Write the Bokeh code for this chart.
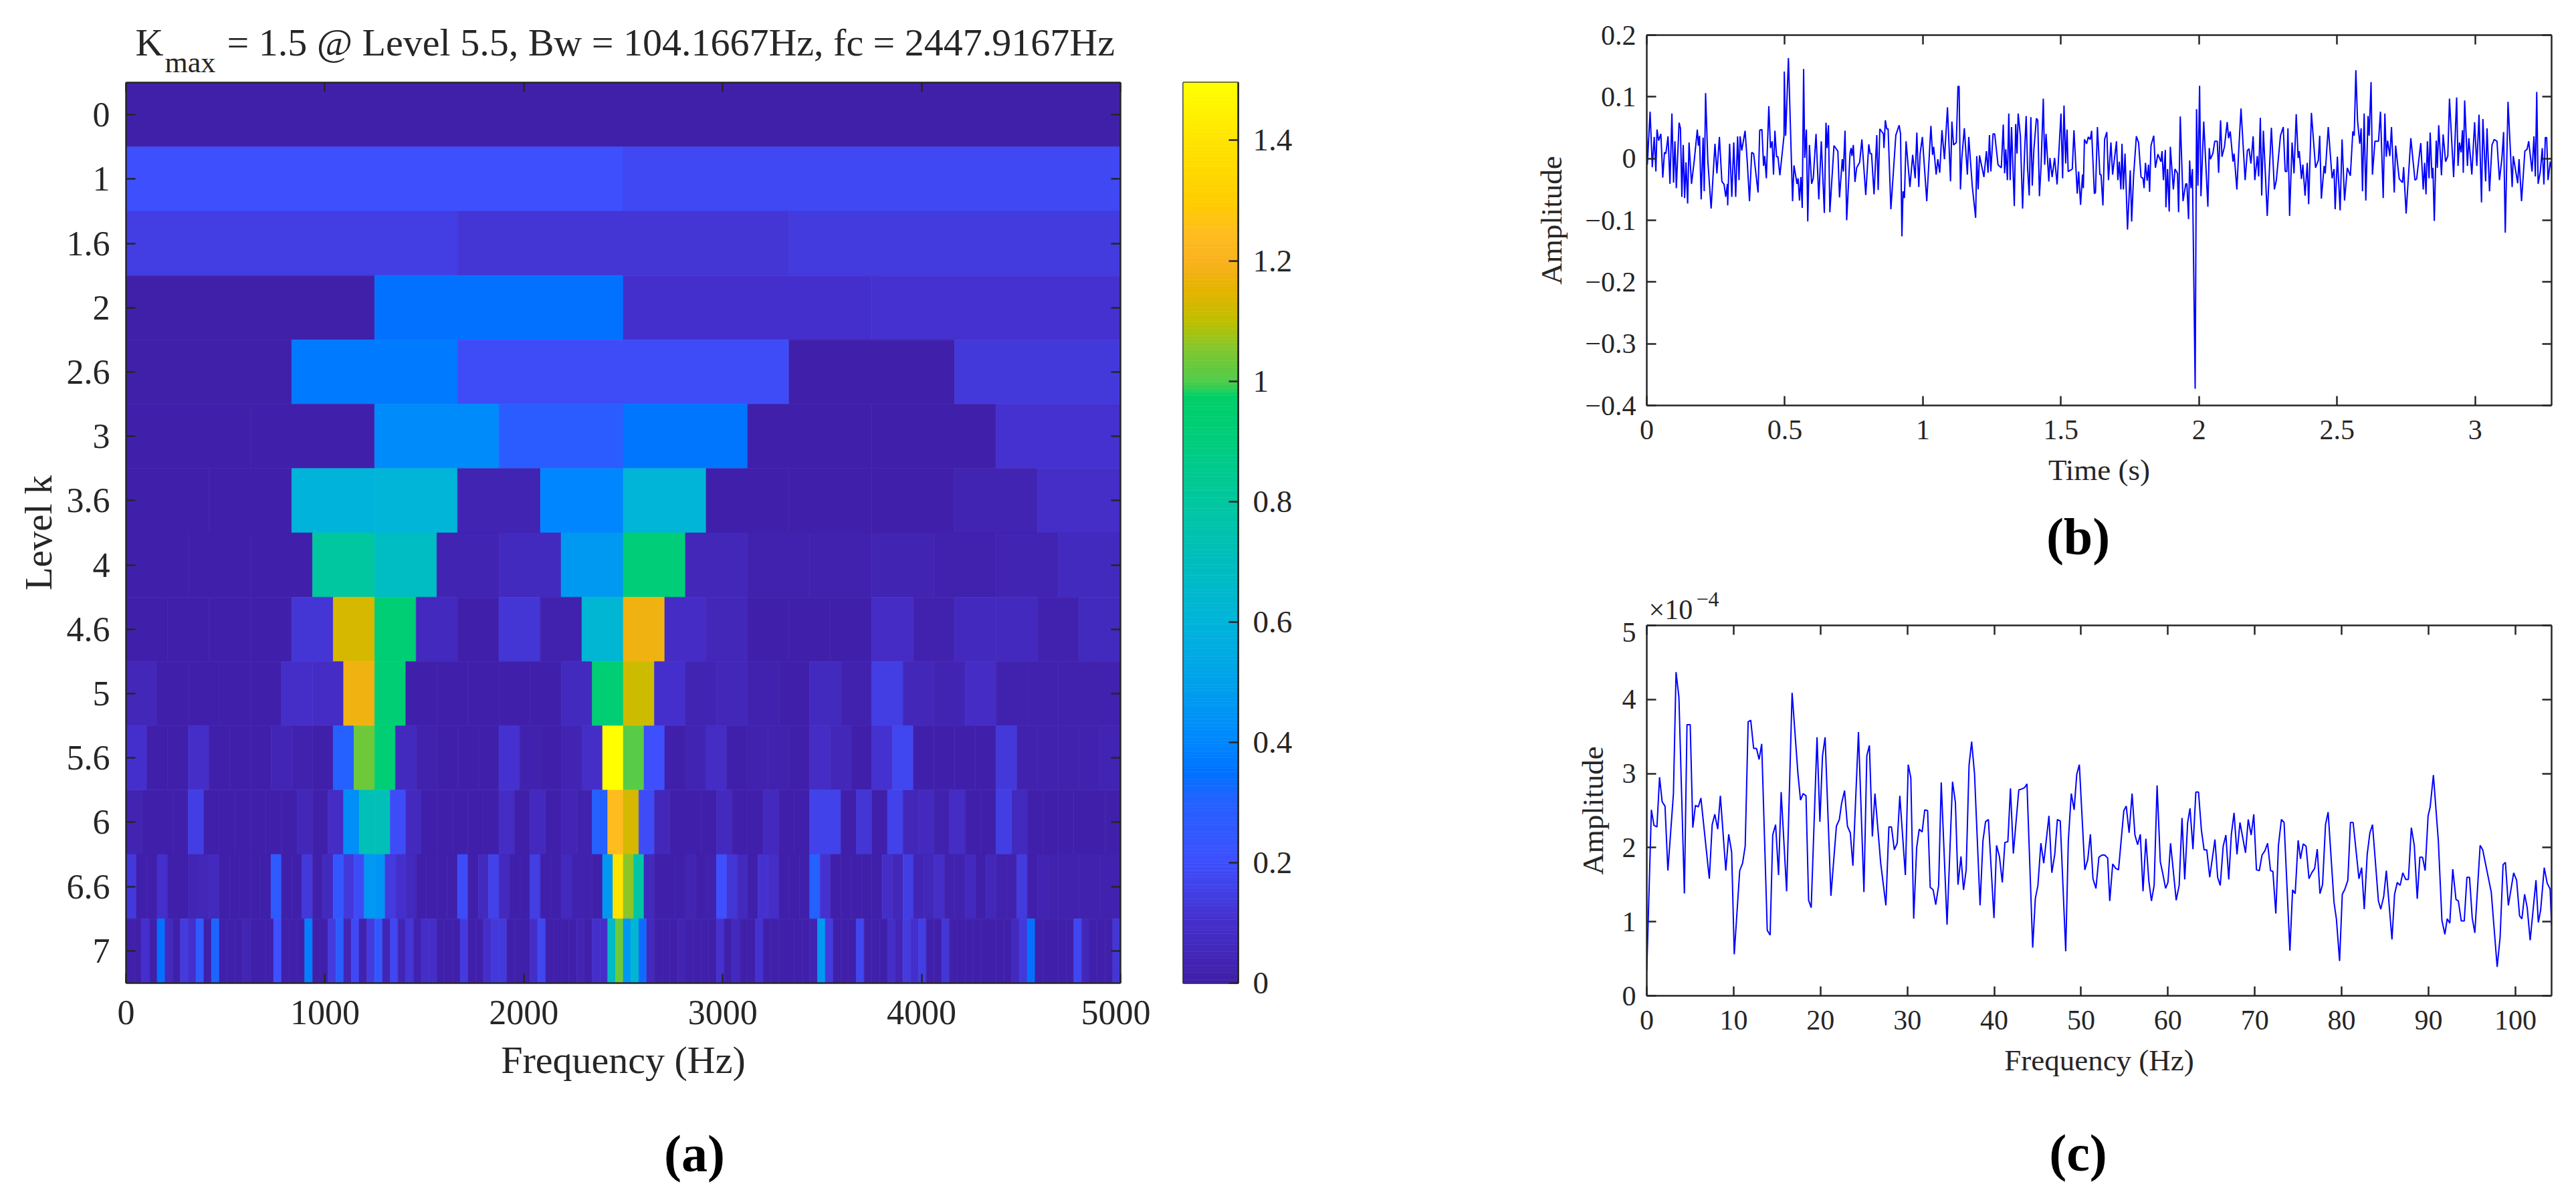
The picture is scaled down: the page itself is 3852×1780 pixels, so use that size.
from bokeh.embed import file_html
from bokeh.resources import INLINE
from bokeh.layouts import row, column
from bokeh.models import (ColumnDataSource, FixedTicker, Label, LinearAxis, Range1d)
from bokeh.plotting import figure
from bokeh.transform import linear_cmap
import numpy as np

# ---------- panel (a): kurtogram ----------
level_labels = ["0", "1", "1.6", "2", "2.6", "3", "3.6", "4", "4.6", "5", "5.6", "6", "6.6", "7"]
freq_max = 5000.0
kurt_max = 1.496
title_k = "K"
title_sub = "max"
title_rest = "= 1.5 @ Level 5.5, Bw = 104.1667Hz, fc = 2447.9167Hz"

level_0 = [0.0]
level_1 = [.20, .18]
level_1_6 = [.15, .12, .14]
level_2 = [.0, .35, .10, .11]
level_2_6 = [.0, .37, .19, .19, .01, .13]
level_3 = [.01, .01, .42, .27, .36, .01, .01, .11]
level_3_6 = [.01, .01, .60, .61, .03, .40, .61, .01, .01, .01, .03, .09]
level_4 = [.01, .01, .01, .80, .68, .03, .07, .47, .92, .05, .02, .02, .03, .02, .03, .07]
level_4_6 = [.01, .01, .01, .01, .12, 1.13, .93, .06, .01, .12, .02, .62, 1.18, .08, .05, .01,
             .01, .01, .08, .02, .06, .06, .02, .07]
level_5 = [.05, .01, .01, .01, .01, .09, .08, 1.18, .93, .01, .01, .01, .01, .01, .07, .93,
           1.12, .10, .03, .05, .02, .01, .07, .02, .15, .05, .03, .08, .02, .02, .02, .02]
level_5_6 = [.10, .01, .01, .09, .01, .01, .01, .04, .02, .01, .30, 1.03, .93, .07, .02, .01,
             .01, .01, .11, .02, .01, .03, .09, 1.5, 1.01, .20, .01, .03, .08, .01, .02, .02,
             .01, .08, .05, .01, .11, .17, .01, .01, .01, .01, .13, .02, .02, .02, .02, .03]
level_6 = [.03, .01, .01, .01, .15, .01, .01, .01, .01, .01, .01, .05, .01, .08, .43, .72,
           .72, .19, .06, .01, .01, .01, .01, .01, .08, .01, .06, .01, .04, .02, .30, 1.24,
           1.13, .19, .05, .01, .01, .01, .06, .01, .01, .06, .01, .01, .16, .16, .01, .12,
           .01, .16, .05, .06, .02, .08, .01, .01, .15, .07, .01, .01, .01, .01, .01, .01]
level_6_6 = [.13, .01, .01, .10, .01, .01, .04, .05, .06, .01, .01, .01, .01, .01, .26, .01,
             .01, .13, .01, .07, .24, .13, .19, .47, .45, .14, .10, .06, .01, .01, .01, .01,
             .19, .01, .07, .16, .06, .01, .01, .15, .01, .01, .06, .02, .02, .01, .47, 1.40,
             1.06, .78, .06, .01, .01, .01, .03, .01, .02, .20, .12, .06, .01, .11, .09, .01,
             .01, .01, .30, .11, .01, .01, .01, .00, .01, .09, .05, .15, .04, .05, .09, .02,
             .02, .06, .01, .05, .02, .02, .14, .01, .03, .02, .02, .02, .02, .02, .02, .02]
level_7 = [.01, .01, .10, .01, .35, .07, .01, .14, .10, .26, .01, .31, .01, .01, .01, .04,
           .01, .01, .01, .20, .01, .01, .01, .38, .01, .01, .14, .28, .04, .18, .02, .14,
           .25, .04, .17, .04, .12, .02, .09, .09, .01, .01, .01, .14, .01, .01, .09, .13,
           .13, .01, .01, .01, .09, .17, .01, .01, .01, .01, .04, .01, .10, .09, .67, 1.03,
           .47, .63, .33, .06, .01, .01, .01, .03, .01, .01, .01, .01, .11, .01, .06, .01,
           .01, .11, .01, .01, .01, .01, .01, .01, .03, .47, .14, .01, .01, .01, .17, .01,
           .01, .01, .09, .04, .14, .10, .15, .01, .01, .12, .01, .01, .01, .01, .01, .01,
           .01, .01, .07, .13, .35, .01, .01, .01, .01, .01, .17, .05, .01, .01, .01, .12]

level_rows = [level_0, level_1, level_1_6, level_2, level_2_6, level_3, level_3_6, level_4,
              level_4_6, level_5, level_5_6, level_6, level_6_6, level_7]

freq_ticks = [0, 1000, 2000, 3000, 4000, 5000]
cbar_ticks = [0, 0.2, 0.4, 0.6, 0.8, 1, 1.2, 1.4]
cbar_tick_labels = ["0", "0.2", "0.4", "0.6", "0.8", "1", "1.2", "1.4"]

# colormap anchors
cmap_pos = [0, .10, .20, .30, .35, .40, .50, .60, .70, .80, .90, .975, 1.0, 1.05, 1.10, 1.15,
            1.20, 1.25, 1.30, 1.40, 1.496]
cmap_r = [64, 70, 62, 36, 0, 0, 0, 0, 0, 0, 0, 0, 80, 125, 190, 228, 250, 255, 255, 255, 255]
cmap_g = [32, 48, 80, 98, 115, 135, 162, 180, 190, 200, 205, 208, 205, 200, 192, 180, 178, 190, 205, 228, 255]
cmap_b = [168, 205, 255, 255, 255, 255, 235, 218, 190, 160, 125, 105, 75, 50, 0, 0, 30, 30, 0, 0, 0]

# ---------- panel (b): envelope signal ----------
time_b = [0, .002, .012, .020, .027, .033, .037, .043, .051, .058, .064, .069, .077, .084, .091, .097,
 .102, .107, .117, .122, .127, .132, .137, .142, .148, .153, .162, .172, .183, .187, .191, .197,
 .204, .208, .213, .221, .233, .247, .254, .263, .272, .280, .286, .292, .293, .300, .308, .315,
 .322, .329, .334, .338, .344, .356, .364, .372, .380, .387, .403, .409, .417, .423, .427, .433,
 .442, .448, .454, .459, .464, .470, .475, .482, .497, .498, .503, .513, .528, .533, .544, .548,
 .553, .558, .563, .568, .572, .578, .583, .589, .597, .603, .613, .623, .632, .643, .649, .653,
 .658, .663, .678, .692, .698, .708, .712, .718, .724, .736, .740, .743, .748, .754, .760, .771,
 .779, .793, .804, .809, .814, .823, .833, .838, .844, .857, .859, .864, .869, .874, .884, .902,
 .914, .919, .924, .928, .933, .939, .953, .963, .972, .978, .985, .990, .998, 1.014, 1.029, 1.035,
 1.039, 1.048, 1.054, 1.061, 1.069, 1.078, 1.089,
 1.100, 1.105, 1.111, 1.121, 1.127, 1.131, 1.136, 1.141, 1.150, 1.161, 1.166, 1.179, 1.191, 1.195,
 1.200, 1.205, 1.221, 1.230, 1.236, 1.241, 1.246, 1.254, 1.260, 1.272, 1.284, 1.291, 1.296, 1.300,
 1.306, 1.311, 1.316, 1.321, 1.331, 1.336, 1.341, 1.345, 1.353, 1.361, 1.368, 1.374, 1.379, 1.385,
 1.391, 1.396, 1.402, 1.411, 1.416, 1.422, 1.428, 1.436, 1.441, 1.446, 1.456, 1.460, 1.468, 1.477,
 1.486, 1.500, 1.506, 1.511, 1.517, 1.522, 1.526, 1.541, 1.547, 1.559, 1.564, 1.571, 1.578, 1.581,
 1.585, 1.593, 1.599, 1.606, 1.611, 1.621, 1.625, 1.632, 1.641, 1.645, 1.652, 1.658, 1.666, 1.672,
 1.681, 1.687, 1.701, 1.706, 1.711, 1.717, 1.721, 1.726, 1.732, 1.741, 1.751, 1.756, 1.763, 1.773,
 1.781, 1.790, 1.797, 1.801, 1.806, 1.812, 1.817, 1.821, 1.826, 1.836, 1.842, 1.851, 1.862, 1.866,
 1.871, 1.878, 1.880, 1.886, 1.892, 1.896, 1.907, 1.913, 1.922, 1.926, 1.932, 1.942, 1.952, 1.956,
 1.962, 1.966, 1.971, 1.976, 1.986, 1.991, 1.996, 2.002, 2.007, 2.017, 2.032, 2.037, 2.041, 2.050,
 2.057, 2.066, 2.071, 2.078, 2.083, 2.092, 2.102, 2.107, 2.113, 2.123, 2.127, 2.137, 2.144, 2.152,
 2.167, 2.175, 2.181, 2.188,
 2.196, 2.202, 2.211, 2.216, 2.222, 2.227, 2.233, 2.241, 2.247, 2.262, 2.273, 2.280, 2.295, 2.305,
 2.312, 2.318, 2.322, 2.328, 2.337, 2.344, 2.352, 2.359, 2.363, 2.371, 2.376, 2.384, 2.392, 2.397,
 2.407, 2.422, 2.432, 2.437, 2.443, 2.453, 2.457, 2.468, 2.482, 2.489, 2.493, 2.501, 2.511, 2.518,
 2.527, 2.537, 2.548, 2.557, 2.562, 2.568, 2.574, 2.582, 2.587, 2.592, 2.598, 2.604, 2.612, 2.616,
 2.623, 2.628, 2.637, 2.650, 2.657, 2.667, 2.673, 2.678, 2.683, 2.691, 2.697, 2.707, 2.712, 2.725,
 2.737, 2.741, 2.750, 2.767, 2.782, 2.788, 2.803, 2.812, 2.817, 2.822, 2.827, 2.833, 2.837, 2.844,
 2.847, 2.852, 2.859, 2.863, 2.868, 2.878, 2.884, 2.893, 2.901, 2.907, 2.922, 2.933, 2.938, 2.943,
 2.949, 2.954, 2.957, 2.962, 2.972, 2.977, 2.988, 2.998, 3.006, 3.014, 3.023, 3.028, 3.038, 3.043,
 3.052, 3.061, 3.069, 3.079, 3.088, 3.097, 3.103, 3.109, 3.119, 3.134, 3.138, 3.154, 3.159, 3.168,
 3.180, 3.188, 3.194, 3.206, 3.213, 3.218, 3.223, 3.228, 3.236, 3.243, 3.249, 3.254, 3.259, 3.264,
 3.272, 3.2768]
amp_b = [.031, -.010, .076, -.014, .035, -.021, .047, .029, .040, -.031, .010, .008, .036, -.041, .073, -.039,
 .028, -.048, .058, .049, -.062, .022, -.064, -.006, -.073, .026, -.041, -.003, .047, .021, .037, -.066,
 .034, -.053, .106, -.003, -.081, .024, -.024, .035, -.037, -.042, -.062, -.041, -.076, .024, -.062, .026,
 -.062, .036, -.035, .036, .013, .045, -.006, -.069, .010, .008, -.055, .046, .047, -.012, .004, -.032,
 .085, .017, .028, -.026, .045, .003, .003, -.027, .037, .141, .037, .163, -.069, -.011, -.041, -.032,
 -.068, -.030, -.080, .145, .001, .047, -.102, .022, -.041, -.032, .040, -.066, .028, -.088, .058, .017,
 .054, -.087, .021, .012, -.063, -.001, -.021, .045, -.100, .008, .017, .004, .022, -.038, -.015, -.006,
 .031, -.059, .023, .008, .008, -.058, .038, -.051, .048, .040, .017, .062, .048, .048, -.082, .038,
 .054, .040, -.126, -.053, -.064, .028, -.046, .006, -.032, .042, -.046, .008, .035, -.069, .053, .006,
 .019, -.026, -.001, -.023, .046, -.001, .083,
 -.037, .060, .022, .026, .117, .117, -.050, .001, .049, -.026, .035, -.046, -.096, .004,
 -.050, .005, -.030, .012, -.023, .038, -.021, .040, .040, -.010, -.015, .055, -.024, .015,
 -.035, .073, -.035, .051, -.077, .056, .008, .073, .037, -.081, .008, .069, -.014, -.060,
 .067, -.044, .015, .065, .062, -.061, -.012, .097, -.010, .040, -.037, .001, -.030, .001,
 -.042, .073, -.032, .086, -.008, .047, -.021, -.017, .046, -.057, -.021, -.075, -.026, -.048,
 .031, .024, .035, .031, .045, -.057, -.055, .051, -.026, -.026, -.076, .031, .043, -.035,
 .026, -.026, .028, -.035, -.005, -.050, .024, -.050, .008, -.115, -.019, -.102, -.028, .036,
 .026, -.030, -.032, -.048, -.007, -.036, -.010, -.054, .021, .037, -.015, .007, -.005, .012,
 -.035, .014, -.079, -.017, -.086, .019, -.050, -.017, -.024, -.087, .068, -.069, -.041, -.041,
 -.098, -.003, -.048, -.017, -.373, .080, -.044, .118, -.061, .060, -.078, .017, -.001, .008,
 .028, .028, -.023, .062, .003, .019, .059, .033, .044, -.005, .008, -.050, .015, .081,
 -.035, .013, .016, -.008,
 .036, -.035, .004, -.029, .066, -.060, .045, -.032, -.093, .050, -.050, -.035, .037, .051,
 -.021, -.021, .049, -.093, .026, -.024, .072, .001, .012, -.033, -.010, -.060, -.007, -.074,
 .074, -.015, -.003, .037, -.065, -.012, -.024, .051, -.032, -.017, -.082, .003, -.084, .031,
 -.068, -.015, -.028, .044, .037, .143, .062, .024, .049, -.053, .073, -.068, .069, .037,
 .124, -.026, .028, .028, .076, -.064, .073, .003, .029, .004, .051, -.055, .021, -.033,
 -.039, -.014, -.089, .033, -.035, -.033, .025, -.050, -.007, -.058, .028, -.032, .042, -.032,
 -.015, -.101, .029, -.015, .054, -.027, .039, -.005, .004, .097, -.030, .099, -.012, .026,
 .010, .046, -.023, .094, -.012, .033, -.026, .059, -.012, .071, -.071, .064, -.037, .049,
 -.053, .022, .031, .028, -.035, .001, .043, -.120, .092, -.046, .004, -.040, -.001, -.069,
 .012, .015, .028, -.021, .036, -.029, .108, -.041, -.021, .017, -.042, .034, .034, -.035,
 -.005, -.017]
time_ticks = [0, 0.5, 1, 1.5, 2, 2.5, 3]
time_tick_labels = ["0", "0.5", "1", "1.5", "2", "2.5", "3"]
amp_ticks_b = [-0.4, -0.3, -0.2, -0.1, 0, 0.1, 0.2]
amp_tick_labels_b = ["\u22120.4", "\u22120.3", "\u22120.2", "\u22120.1", "0", "0.1", "0.2"]

# ---------- panel (c): envelope spectrum, amplitude in units of 1e-4 ----------
freq_c = [0, .53, .83, 1.17, 1.47, 1.77, 2.1, 2.43, 3.07, 3.37, 3.7, 4.33, 4.63, 5, 5.3, 5.6, 5.93, 6.23,
 7.2, 7.53, 7.83, 8.17, 8.47, 9.1, 9.43, 9.77, 10.07, 10.7, 11.03, 11.33, 11.67, 11.97, 12.3, 12.63,
 12.93, 13.23, 13.87, 14.2, 14.5, 14.83, 15.17, 15.47, 16.1, 16.73, 17.4, 17.7, 18, 18.33, 18.63,
 18.93, 19.6, 19.93, 20.23, 20.53, 21.2, 21.83, 22.17, 22.43, 22.77, 23.1, 23.43, 23.73, 24.37, 25,
 25.33, 25.63, 25.97, 26.27, 26.93, 27.53, 27.87, 28.17, 28.5, 28.83, 29.13, 29.77, 30.1, 30.4,
 30.73, 31.07, 31.37, 31.7, 32, 32.33, 32.63, 32.97, 33.27, 33.6, 33.9, 34.57, 35.2, 35.53, 35.83,
 36.17, 36.47, 36.77, 37.1, 37.4, 37.73, 38.37, 38.7, 39, 39.33, 39.97, 40.27, 40.6, 40.93, 41.23,
 41.57, 41.87, 42.2, 42.83, 43.13, 43.5, 43.77, 44.43, 44.73, 45.03, 45.37, 45.7, 46.3, 46.63,
 46.97, 47.27, 47.6, 48.23, 48.53, 48.87, 49.2, 49.5, 49.8, 50.43, 50.77, 51.07, 51.37, 51.71,
 52.05, 52.39, 52.72, 53.06, 53.3, 53.64, 53.98, 54.31, 54.92, 55.2, 55.53, 55.87, 56.2, 56.51,
 56.82, 57.13, 57.46, 57.8, 58.1, 58.41, 58.75, 59.12, 59.42, 59.73, 60, 60.3, 60.95, 61.29, 61.62,
 61.93, 62.27, 62.54, 62.88, 63.21, 63.52, 63.85, 64.16, 64.47, 64.81, 65.41, 65.72, 66.02, 66.36,
 66.67, 67, 67.3, 67.61, 67.95, 68.29, 68.93, 69.24, 69.58, 69.88, 70.19, 70.52, 70.83, 71.17,
 71.47, 71.81, 72.08, 72.42, 72.72, 73.06, 73.37, 74.04, 74.35, 74.65, 74.99, 75.26, 75.57, 75.9,
 76.24, 76.55, 76.89, 77.19, 77.5, 77.8, 78.14, 78.44, 79.12, 79.39, 79.76, 80.07, 80.37, 80.71,
 81.01, 81.32, 81.99, 82.3, 82.6, 82.94, 83.25, 83.55, 84.23, 84.5, 84.84, 85.14, 85.79, 86.09,
 86.4, 86.73, 87.04, 87.38, 87.68, 88.02, 88.36, 88.7, 89, 89.31, 89.61, 89.95, 90.19, 90.56,
 91.13, 91.54, 91.88, 92.15, 92.45, 92.79, 93.16, 93.43, 93.77, 94.11, 94.42, 94.72, 95.03, 95.33,
 95.94, 96.24, 97.22, 97.9, 98.24, 98.58, 98.85, 99.19, 99.8, 100.14, 100.48, 100.75, 101.06,
 101.36, 101.7, 102.37, 102.64, 102.91, 103.32, 103.66, 104, 104.1667]
amp_c = [.34, 2.51, 2.30, 2.28, 2.95, 2.62, 2.56, 1.69, 2.73, 4.37, 4.03, 1.38, 3.66, 3.66, 2.27, 2.57, 2.55, 2.67,
 1.58, 2.31, 2.45, 2.25, 2.70, 1.69, 2.18, 1.94, .56, 1.69, 1.79, 2.02, 3.70, 3.72, 3.34, 3.34,
 3.19, 3.40, .885, .82, 2.17, 2.31, 1.63, 2.75, 1.41, 4.09, 3.0, 2.64, 2.73, 2.70, 1.29,
 1.19, 3.49, 2.35, 3.24, 3.49, 1.35, 2.29, 2.38, 2.6, 2.77, 2.29, 2.2, 1.755, 3.56, 1.40,
 3.24, 3.38, 2.15, 2.73, 1.79, 1.22, 2.28, 2.28, 1.97, 2.06, 2.70, 1.63, 3.12, 2.94,
 1.04, 2.0, 2.25, 2.21, 2.51, 2.50, 1.465, 1.43, 1.23, 1.49, 2.88, .96, 2.89, 2.61, 1.50,
 1.88, 1.43, 1.70, 3.11, 3.43, 3.0, 1.22, 2.09, 2.35, 2.38, 1.05, 2.03, 1.88, 1.53, 2.07,
 2.08, 2.80, 1.92, 2.78, 2.79, 2.81, 2.86, .65, 1.31, 1.49, 2.06, 1.79, 2.43, 1.66,
 1.91, 2.38, 2.36, .60, 2.09, 2.73, 2.51, 2.99, 3.12, 1.70, 1.84, 2.18, 1.58, 1.45,
 1.87, 1.90, 1.90, 1.86, 1.28, 1.78, 1.72, 1.70, 2.50, 2.56, 2.20, 2.73, 2.17, 2.04,
 2.18, 1.41, 2.12, 1.55, 1.28, 1.49, 2.84, 1.81, 1.64, 1.45, 1.53, 2.06, 1.29, 1.49, 2.40,
 1.57, 2.34, 2.53, 1.98, 2.75, 2.75, 2.24, 1.97, 1.97, 1.60, 2.11, 1.60, 1.49, 2.02,
 2.17, 1.57, 2.18, 2.47, 1.91, 2.34, 1.93, 2.38, 2.17, 2.45, 1.70, 1.69, 1.90, 1.96,
 2.06, 1.69, 1.68, 1.11, 2.03, 2.38, 2.34, .61, 1.43, 1.38, 2.10, 1.85, 2.05, 2.02,
 1.58, 1.66, 1.72, 1.98, 1.38, 1.50, 2.31, 2.48, 1.26, 1.04, .47, 1.37, 1.44, 1.56,
 2.34, 2.34, 1.58, 1.73, 1.17, 1.91, 2.20, 2.31, 1.28, 1.17, 1.34, 1.69, .76, 1.37,
 1.53, 1.49, 1.66, 1.57, 1.57, 2.27, 2.03, 1.31, 1.87, 1.87, 1.69, 2.43, 2.55, 2.98,
 2.09, 1.02, .83, 1.04, .98, 1.71, 1.30, 1.28, 1.01, 1.01, 1.60, 1.60, 1.05, .85,
 2.03, 1.97, 1.40, .39, .79, 1.77, 1.80, 1.22, 1.66, 1.56, 1.08, 1.04, 1.37,
 1.19, .75, 1.56, .99, 1.16, 1.73, 1.52, 1.44, .94]
freq_ticks_c = [0, 10, 20, 30, 40, 50, 60, 70, 80, 90, 100]
amp_ticks_c = [0, 1, 2, 3, 4, 5]

SERIF = "Liberation Serif"
INK = "#262626"
BLUE = "#0000ff"


def style_axis(ax, ticks, labels=None, size="42px"):
    ax.ticker = FixedTicker(ticks=ticks)
    ax.level = "overlay"
    ax.minor_tick_line_color = None
    ax.major_tick_in = 14
    ax.major_tick_out = 0
    ax.major_tick_line_color = INK
    ax.major_tick_line_width = 2.5
    ax.axis_line_color = INK
    ax.axis_line_width = 2.5
    ax.major_label_text_font = SERIF
    ax.major_label_text_font_size = size
    ax.major_label_text_color = INK
    ax.axis_label_text_font = SERIF
    ax.axis_label_text_font_style = "normal"
    ax.axis_label_text_color = INK
    if labels is not None:
        ax.major_label_overrides = dict(zip(ticks, labels))


def mirror(fig, side, ticks):
    ax = LinearAxis()
    style_axis(ax, ticks, [""] * len(ticks), "1px")
    ax.major_label_standoff = 0
    fig.add_layout(ax, side)


def base_fig(w, h, left, right, top, bottom, xr, yr):
    f = figure(width=w, height=h, output_backend="svg", toolbar_location=None,
               x_range=xr, y_range=yr, min_border_left=left, min_border_right=right,
               min_border_top=top, min_border_bottom=bottom)
    f.grid.visible = False
    f.outline_line_color = None
    return f


def strip(w, h, left=0, right=0):
    """A blank band of the page that carries text; its data units are pixels from its top-left."""
    f = figure(width=w, height=h, output_backend="svg", toolbar_location=None,
               x_range=Range1d(left, w - right), y_range=Range1d(h, 0),
               x_axis_location=None, y_axis_location=None,
               min_border_left=left, min_border_right=right, min_border_top=0, min_border_bottom=0)
    f.grid.visible = False
    f.outline_line_color = None
    return f


def add_text(fig, text, x, y, size, style="normal", align="left"):
    # the alphabetic anchor lands about 0.23 em under the requested line
    fig.add_layout(Label(x=x, y=y - 0.23 * size, text=text, text_font=SERIF,
                         text_font_size=f"{size}px", text_font_style=style,
                         text_color=INK if style == "normal" else "black",
                         text_align=align, text_baseline="alphabetic"))


# palette from the anchors
levels = np.linspace(0, kurt_max, 256)
palette = ["#%02x%02x%02x" % (int(r), int(g), int(b)) for r, g, b in zip(
    np.interp(levels, cmap_pos, cmap_r), np.interp(levels, cmap_pos, cmap_g),
    np.interp(levels, cmap_pos, cmap_b))]

# ---- text bands ----
top_a = strip(2260, 117)
add_text(top_a, title_k, 202, 76, 58)
add_text(top_a, title_sub, 246, 103, 44)
add_text(top_a, title_rest, 339, 76, 58)
bot_a = strip(2260, 110)
add_text(bot_a, "(a)", 1038, 73, 78, "bold", "center")
bot_b = strip(1592, 115, 202, 35)
add_text(bot_b, "(b)", 848, 75, 78, "bold", "center")
top_c = strip(1592, 71, 202, 35)
add_text(top_c, "\u00d710", 205, 61, 42)
add_text(top_c, "\u22124", 276, 43, 32)
bot_c = strip(1592, 115, 202, 35)
add_text(bot_c, "(c)", 848, 77, 78, "bold", "center")

# ---- figure a ----
left, right, top, bottom, val = [], [], [], [], []
for i, cells in enumerate(level_rows):
    n = len(cells)
    for j, v in enumerate(cells):
        left.append(j * freq_max / n)
        right.append((j + 1) * freq_max / n)
        top.append(i)
        bottom.append(i + 1)
        val.append(v)
src_a = ColumnDataSource(dict(left=left, right=right, top=top, bottom=bottom, val=val))

fa = base_fig(1720, 1553, 188, 45, 6, 200, Range1d(0, freq_max), Range1d(len(level_rows), 0))
cmap = linear_cmap("val", palette, 0, kurt_max)
fa.quad(left="left", right="right", top="top", bottom="bottom", source=src_a,
        fill_color=cmap, line_color=cmap, line_width=0.6)
row_centres = [i + 0.5 for i in range(len(level_rows))]
style_axis(fa.xaxis[0], freq_ticks, [str(t) for t in freq_ticks], "52px")
style_axis(fa.yaxis[0], row_centres, level_labels, "52px")
fa.xaxis[0].major_label_standoff = 26
fa.yaxis[0].major_label_standoff = 24
fa.xaxis[0].axis_label = "Frequency (Hz)"
fa.xaxis[0].axis_label_text_font_size = "58px"
fa.xaxis[0].axis_label_standoff = 18
fa.yaxis[0].axis_label = "Level k"
fa.yaxis[0].axis_label_text_font_size = "57px"
fa.yaxis[0].axis_label_standoff = 8
mirror(fa, "above", freq_ticks)
mirror(fa, "right", row_centres)

# ---- colour bar ----
fc_bar = base_fig(540, 1553, 49, 409, 3, 200, Range1d(0, 1), Range1d(0, kurt_max))
edges = np.linspace(0, kurt_max, len(palette) + 1)
bar = ColumnDataSource(dict(lo=edges[:-1], hi=edges[1:], color=palette))
fc_bar.quad(left=0, right=1, bottom="lo", top="hi", source=bar, fill_color="color", line_color="color",
            line_width=0.6)
fc_bar.xaxis.visible = False
fc_bar.yaxis.visible = False
ax_cb = LinearAxis()
style_axis(ax_cb, cbar_ticks, cbar_tick_labels, "47px")
ax_cb.major_label_standoff = 22
fc_bar.add_layout(ax_cb, "right")
fc_bar.outline_line_color = INK
fc_bar.outline_line_width = 2.5

# ---- figure b ----
fb = base_fig(1592, 745, 202, 35, 52, 139, Range1d(0, 3.2768), Range1d(-0.4, 0.2))
fb.line(time_b, amp_b, line_color=BLUE, line_width=2)
style_axis(fb.xaxis[0], time_ticks, time_tick_labels)
style_axis(fb.yaxis[0], amp_ticks_b, amp_tick_labels_b)
fb.xaxis[0].major_label_standoff = 22
fb.yaxis[0].major_label_standoff = 16
fb.xaxis[0].axis_label = "Time (s)"
fb.xaxis[0].axis_label_text_font_size = "45px"
fb.xaxis[0].axis_label_standoff = 18
fb.yaxis[0].axis_label = "Amplitude"
fb.yaxis[0].axis_label_text_font_size = "45px"
fb.yaxis[0].axis_label_standoff = 22
mirror(fb, "above", time_ticks)
mirror(fb, "right", amp_ticks_b)

# ---- figure c ----
fc = base_fig(1592, 734, 202, 37, 4, 176, Range1d(0, 104.1667), Range1d(0, 5))
fc.line(freq_c, amp_c, line_color=BLUE, line_width=2)
style_axis(fc.xaxis[0], freq_ticks_c, [str(t) for t in freq_ticks_c])
style_axis(fc.yaxis[0], amp_ticks_c, [str(t) for t in amp_ticks_c])
fc.xaxis[0].major_label_standoff = 22
fc.yaxis[0].major_label_standoff = 16
fc.xaxis[0].axis_label = "Frequency (Hz)"
fc.xaxis[0].axis_label_text_font_size = "45px"
fc.xaxis[0].axis_label_standoff = 18
fc.yaxis[0].axis_label = "Amplitude"
fc.yaxis[0].axis_label_text_font_size = "45px"
fc.yaxis[0].axis_label_standoff = 16
mirror(fc, "above", freq_ticks_c)
mirror(fc, "right", amp_ticks_c)

assert len(time_b) == len(amp_b), (len(time_b), len(amp_b))
assert len(freq_c) == len(amp_c), (len(freq_c), len(amp_c))

page = row(column(top_a, row(fa, fc_bar), bot_a), column(fb, bot_b, top_c, fc, bot_c))
open("out.html", "w").write(file_html(page, INLINE))
